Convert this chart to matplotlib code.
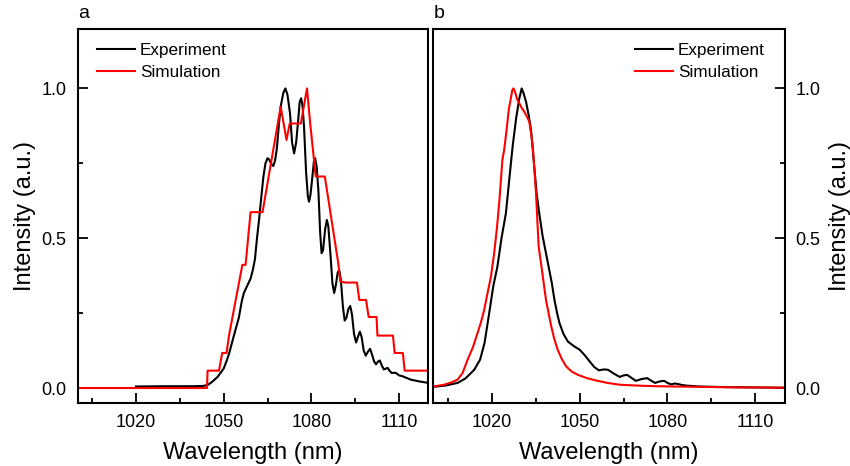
import matplotlib
matplotlib.use("Agg")
import matplotlib.pyplot as plt
from matplotlib.ticker import MultipleLocator

plt.rcParams['font.family'] = ['Liberation Sans', 'DejaVu Sans']

# ---- Panel a data ----
a_exp_wl = [1020, 1030, 1040, 1043, 1044.5, 1046, 1048, 1050, 1051, 1052, 1053.5, 1055.2, 1056.2,
            1056.9, 1058, 1059.2, 1060, 1060.7, 1061.4, 1062.1, 1062.9, 1063.6, 1064.3, 1065.0,
            1065.6, 1066.3, 1067.0, 1067.6, 1068.2, 1068.9, 1069.5, 1070.4, 1071.1, 1071.8, 1072.7,
            1073.4, 1074.1, 1074.8, 1075.5, 1076.0, 1076.5, 1077.0, 1077.5, 1078.2, 1078.8, 1079.2,
            1079.7, 1080.4, 1080.9, 1081.3, 1081.8, 1082.4, 1083.0, 1083.5, 1084.0, 1084.7, 1085.3,
            1085.8, 1086.5, 1087.2, 1087.8, 1088.4, 1089.0, 1089.5, 1090.1, 1090.8, 1091.4, 1092.0,
            1092.7, 1093.3, 1093.9, 1094.6, 1095.3, 1095.9, 1096.6, 1097.2, 1097.9, 1098.6, 1099.4,
            1100.1, 1100.8, 1101.5, 1102.1, 1102.8, 1103.4, 1104.1, 1104.8, 1105.5, 1106.1, 1106.8,
            1107.5, 1108.3, 1109.0, 1110, 1111, 1112, 1114, 1117, 1120]
a_exp_int = [0.005, 0.006, 0.006, 0.007, 0.01, 0.02, 0.038, 0.065, 0.09, 0.12, 0.175, 0.235, 0.29,
             0.317, 0.34, 0.365, 0.395, 0.43, 0.50, 0.561, 0.64, 0.706, 0.75, 0.767,
             0.762, 0.748, 0.741, 0.76, 0.80, 0.88, 0.939, 0.985, 1.0, 0.98, 0.917,
             0.82, 0.783, 0.82, 0.895, 0.955, 0.967, 0.94, 0.87, 0.72, 0.64, 0.622,
             0.645, 0.71, 0.76, 0.767, 0.74, 0.66, 0.52, 0.45, 0.46, 0.53, 0.561,
             0.54, 0.45, 0.35, 0.317, 0.345, 0.385, 0.394, 0.36, 0.27, 0.225, 0.235,
             0.265, 0.274, 0.245, 0.18, 0.152, 0.17, 0.188, 0.17, 0.125, 0.108, 0.122,
             0.131, 0.11, 0.088, 0.079, 0.088, 0.092, 0.075, 0.062, 0.065, 0.067, 0.057,
             0.05, 0.051, 0.05, 0.042, 0.04, 0.036, 0.028, 0.022, 0.017]

a_sim_wl = [1000, 1044.3, 1044.5, 1048.4, 1049.5, 1051.0, 1051.8, 1056.4, 1057.5, 1059.2, 1063.3,
            1069.5, 1071.5, 1072.6, 1076.4, 1078.5, 1079.6, 1081.5, 1084.6, 1089.2, 1089.9, 1091.5,
            1095.6, 1096.4, 1098.7, 1099.6, 1102.3, 1102.6, 1107.9, 1108.5, 1111.3, 1111.9, 1120]
a_sim_int = [0.0, 0.0, 0.058, 0.058, 0.117, 0.117, 0.174, 0.411, 0.411, 0.587, 0.587,
             0.939, 0.828, 0.883, 0.883, 1.0, 0.883, 0.706, 0.706, 0.417, 0.356, 0.352,
             0.352, 0.294, 0.294, 0.237, 0.237, 0.175, 0.175, 0.117, 0.117, 0.058, 0.058]

# ---- Panel b data ----
b_exp_wl = [1000, 1004, 1008.3, 1011, 1014, 1016, 1017.5, 1019.1, 1020.5, 1021.9, 1023.3, 1024.8,
            1026, 1027.1, 1028.3, 1029.4, 1030.2, 1030.8, 1031.7, 1032.6, 1033.4, 1034.5, 1035.3,
            1036.2, 1037.3, 1038.5, 1040.5, 1041.4, 1042.3, 1043.1, 1044.5, 1046.0, 1048, 1050,
            1051.7, 1053.4, 1055, 1056.6, 1058.2, 1059.7, 1061.7, 1063.7, 1065, 1066.2, 1067.7,
            1069.2, 1071.2, 1073.1, 1074.5, 1075.8, 1077.3, 1078.9, 1080.2, 1081.4, 1082.4, 1083.3,
            1085, 1086.6, 1091.1, 1100, 1110, 1120]
b_exp_int = [0.004, 0.008, 0.017, 0.032, 0.061, 0.095, 0.15, 0.25, 0.34, 0.405, 0.50, 0.583,
             0.70, 0.806, 0.90, 0.967, 1.0, 0.985, 0.955, 0.91, 0.861, 0.739, 0.65,
             0.583, 0.51, 0.45, 0.35, 0.294, 0.25, 0.217, 0.18, 0.155, 0.14, 0.128,
             0.11, 0.089, 0.07, 0.059, 0.062, 0.061, 0.048, 0.037, 0.042, 0.044, 0.034,
             0.024, 0.03, 0.033, 0.024, 0.017, 0.022, 0.024, 0.016, 0.012, 0.015, 0.014,
             0.01, 0.008, 0.005, 0.003, 0.002, 0.001]

b_sim_wl = [1000, 1003.7, 1006, 1008.3, 1010, 1011.7, 1013.5, 1015.1, 1016.3, 1017.4, 1018.6,
            1019.7, 1020.8, 1021.8, 1022.7, 1023.6, 1024.2, 1024.9, 1025.8, 1026.5, 1027.0, 1027.4,
            1027.9, 1028.6, 1029.4, 1030.2, 1031.1, 1032.0, 1032.8, 1033.4, 1034.0, 1034.6, 1035.1,
            1035.6, 1036.0, 1036.8, 1038.0, 1038.5, 1039.7, 1040.3, 1041.3, 1042.5, 1043.9, 1045.4,
            1047.3, 1049.4, 1052.5, 1055.7, 1059.5, 1063.7, 1070, 1076.3, 1090, 1105, 1120]
b_sim_int = [0.005, 0.011, 0.018, 0.028, 0.05, 0.094, 0.135, 0.183, 0.22, 0.261, 0.32,
             0.372, 0.45, 0.54, 0.64, 0.761, 0.794, 0.85, 0.93, 0.967, 0.995, 1.0,
             0.99, 0.965, 0.95, 0.935, 0.922, 0.905, 0.889, 0.85, 0.806, 0.72, 0.65,
             0.55, 0.472, 0.417, 0.33, 0.294, 0.235, 0.206, 0.165, 0.128, 0.097, 0.072,
             0.055, 0.044, 0.033, 0.025, 0.017, 0.011, 0.008, 0.006, 0.004, 0.002, 0.001]

x_ticks = [1020, 1050, 1080, 1110]
y_ticks = [0.0, 0.5, 1.0]
y_tick_labels = ['0.0', '0.5', '1.0']

W, H = 850, 466
fig = plt.figure(figsize=(W / 100, H / 100), dpi=100)
bottom = 1 - 403 / H
height = (403 - 28.5) / H
ax1 = fig.add_axes([77.5 / W, bottom, (428.3 - 77.5) / W, height])
ax2 = fig.add_axes([433.3 / W, bottom, (784.5 - 433.3) / W, height])

lw = 1.5
ax1.plot(a_exp_wl, a_exp_int, color='black', lw=lw, label='Experiment')
ax1.plot(a_sim_wl, a_sim_int, color='#ff0000', lw=lw, label='Simulation')
ax2.plot(b_exp_wl, b_exp_int, color='black', lw=lw, label='Experiment')
ax2.plot(b_sim_wl, b_sim_int, color='#ff0000', lw=lw, label='Simulation')

for ax in (ax1, ax2):
    ax.set_xlim(1000, 1120)
    ax.set_ylim(-0.05, 1.2)
    ax.set_xticks(x_ticks)
    ax.xaxis.set_minor_locator(MultipleLocator(15))
    ax.yaxis.set_minor_locator(MultipleLocator(0.25))
    for s in ax.spines.values():
        s.set_linewidth(1.5)
    ax.tick_params(which='major', direction='in', length=7, width=1.3, labelsize=13, pad=8)
    ax.tick_params(which='minor', direction='in', length=3.5, width=1.3)
    ax.tick_params(axis='x', top=False, which='both')
    ax.set_xlabel('Wavelength (nm)', fontsize=17, labelpad=8)
    ax.set_yticks(y_ticks)
    ax.set_yticklabels(y_tick_labels)

ax1.tick_params(axis='y', which='both', left=True, right=False)
ax1.set_ylabel('Intensity (a.u.)', fontsize=17, labelpad=4)

ax2.yaxis.tick_right()
ax2.tick_params(axis='y', which='both', left=False, right=True, labelleft=False, labelright=True)
ax2.yaxis.set_label_position('right')
ax2.set_ylabel('Intensity (a.u.)', fontsize=17, rotation=90, labelpad=6)

dy = 5 / 374.5
leg_kw = dict(frameon=False, fontsize=12.3, handlelength=2.2, handletextpad=0.3,
              borderaxespad=0.75, labelspacing=0.4)
ax1.legend(loc='upper left', bbox_to_anchor=(0, 1 + dy), **leg_kw)
ax2.legend(loc='upper right', bbox_to_anchor=(1, 1 + dy), **leg_kw)

fig.text(78 / W, 1 - 14 / H, 'a', fontsize=14, ha='left', va='center')
fig.text(434 / W, 1 - 14 / H, 'b', fontsize=14, ha='left', va='center')

fig.savefig('out.png', dpi=100)
